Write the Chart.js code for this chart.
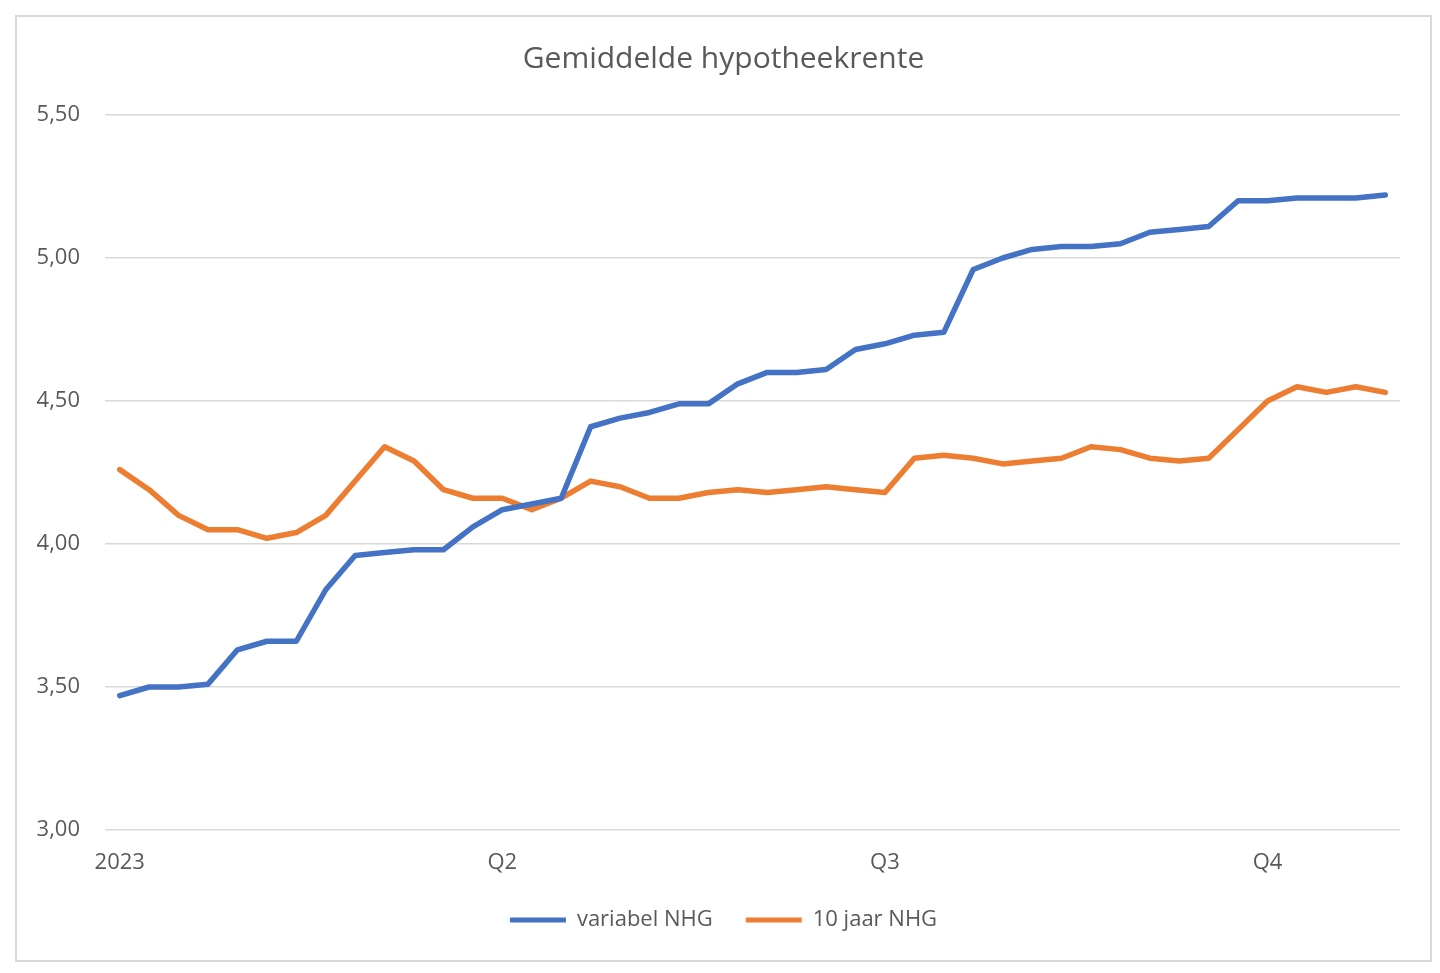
<!DOCTYPE html>
<html>
<head>
<meta charset="utf-8">
<script src="https://cdn.jsdelivr.net/npm/chart.js@4.4.1/dist/chart.umd.min.js"></script>
<style>
  html, body { margin: 0; padding: 0; background: #ffffff; }
  #wrap { position: relative; width: 1440px; height: 973px; }
</style>
</head>
<body>
<div id="wrap"><canvas id="c"></canvas></div>
<script>
// Weekly categories (44 weeks); quarter labels shown on the axis
const categories = [
  '2023', '', '', '', '', '', '', '', '', '', '', '', '',
  'Q2', '', '', '', '', '', '', '', '', '', '', '', '',
  'Q3', '', '', '', '', '', '', '', '', '', '', '', '',
  'Q4', '', '', '', ''
];

const variabelNHG = [
  3.47, 3.50, 3.50, 3.51, 3.63, 3.66, 3.66, 3.84, 3.96, 3.97, 3.98, 3.98, 4.06,
  4.12, 4.14, 4.16, 4.41, 4.44, 4.46, 4.49, 4.49, 4.56, 4.60, 4.60, 4.61, 4.68,
  4.70, 4.73, 4.74, 4.96, 5.00, 5.03, 5.04, 5.04, 5.05, 5.09, 5.10, 5.11, 5.20,
  5.20, 5.21, 5.21, 5.21, 5.22
];

const tienJaarNHG = [
  4.26, 4.19, 4.10, 4.05, 4.05, 4.02, 4.04, 4.10, 4.22, 4.34, 4.29, 4.19, 4.16,
  4.16, 4.12, 4.16, 4.22, 4.20, 4.16, 4.16, 4.18, 4.19, 4.18, 4.19, 4.20, 4.19,
  4.18, 4.30, 4.31, 4.30, 4.28, 4.29, 4.30, 4.34, 4.33, 4.30, 4.29, 4.30, 4.40,
  4.50, 4.55, 4.53, 4.55, 4.53
];

const yTicks = [3.00, 3.50, 4.00, 4.50, 5.00, 5.50];

const seriesNames = ['variabel NHG', '10 jaar NHG'];
const seriesColors = ['#4472C4', '#ED7D31'];
const titleText = 'Gemiddelde hypotheekrente';

const FONT = "'Open Sans', 'Liberation Sans', sans-serif";
const TEXT = '#595959';
const GRID = '#d9d9d9';

const borderPlugin = {
  id: 'frame',
  beforeDraw(chart) {
    const ctx = chart.ctx;
    ctx.save();
    ctx.fillStyle = '#ffffff';
    ctx.fillRect(0, 0, chart.width, chart.height);
    ctx.strokeStyle = GRID;
    ctx.lineWidth = 2;
    ctx.strokeRect(16, 16, 1415, 945);
    ctx.restore();
  }
};

new Chart(document.getElementById('c'), {
  type: 'line',
  data: {
    labels: categories,
    datasets: [
      {
        label: seriesNames[0],
        data: variabelNHG,
        borderColor: seriesColors[0],
        backgroundColor: seriesColors[0],
        borderWidth: 5.5,
        pointRadius: 0,
        tension: 0,
        borderJoinStyle: 'round',
        borderCapStyle: 'round'
      },
      {
        label: seriesNames[1],
        data: tienJaarNHG,
        borderColor: seriesColors[1],
        backgroundColor: seriesColors[1],
        borderWidth: 5.5,
        pointRadius: 0,
        tension: 0,
        borderJoinStyle: 'round',
        borderCapStyle: 'round'
      }
    ]
  },
  options: {
    responsive: true,
    maintainAspectRatio: false,
    animation: false,
    devicePixelRatio: 1,
    layout: { padding: { left: 12, right: 5, top: 14, bottom: 32 } },
    plugins: {
      title: {
        display: true,
        text: titleText,
        color: TEXT,
        font: { family: FONT, size: 30, weight: 'normal' },
        padding: { top: 27, bottom: 38 }
      },
      legend: {
        position: 'bottom',
        labels: {
          color: TEXT,
          font: { family: FONT, size: 22 },
          boxWidth: 56,
          boxHeight: 5,
          padding: 33,
          generateLabels(chart) {
            return chart.data.datasets.map((ds, i) => ({
              text: ds.label,
              fillStyle: ds.borderColor,
              strokeStyle: ds.borderColor,
              lineWidth: 0,
              fontColor: TEXT,
              hidden: false,
              datasetIndex: i
            }));
          }
        }
      },
      tooltip: { enabled: false }
    },
    scales: {
      x: {
        offset: true,
        grid: { display: false, drawTicks: false },
        border: { display: false },
        ticks: {
          autoSkip: false,
          maxRotation: 0,
          minRotation: 0,
          padding: 20,
          color: TEXT,
          font: { family: FONT, size: 22 },
          callback: (v, i) => categories[i]
        },
        afterFit(scale) { scale.height = 46; }
      },
      y: {
        min: yTicks[0],
        max: yTicks[yTicks.length - 1],
        afterBuildTicks(scale) { scale.ticks = yTicks.map(v => ({ value: v })); },
        grid: { color: GRID, lineWidth: 1.5, drawTicks: false },
        border: { display: false },
        ticks: {
          padding: 25,
          color: TEXT,
          font: { family: FONT, size: 22 },
          callback: v => Number(v).toFixed(2).replace('.', ',')
        },
        afterFit(scale) { scale.width = 93; }
      },
      // empty right-hand margin so the plot ends where the reference's does
      yRight: {
        position: 'right',
        display: true,
        grid: { display: false, drawTicks: false },
        border: { display: false },
        ticks: { display: false },
        afterFit(scale) { scale.width = 35; }
      }
    }
  },
  plugins: [borderPlugin]
});
</script>
</body>
</html>
